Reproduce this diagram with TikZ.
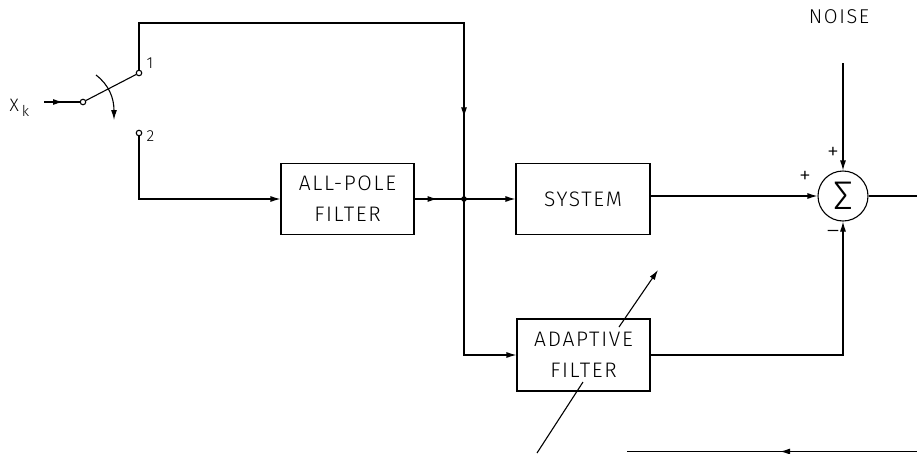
\documentclass[tikz,border=0pt]{standalone}
\usepackage{fontspec}
\setmainfont{Liberation Sans}
\newfontfamily\plotfont[LetterSpace=8]{Fira Sans}[UprightFont={* Light}]
\usetikzlibrary{arrows.meta,decorations.markings,calc}

\begin{document}
\begin{tikzpicture}[x=1pt,y=-1pt,line width=1.1pt,
  tip/.style={-{Latex[length=10pt,width=6pt]}},
  midtip/.style={postaction={decorate},decoration={markings,
      mark=at position #1 with {\arrow{Latex[length=10pt,width=6pt]}}}},
  blockbox/.style={draw,minimum width=133pt,minimum height=71pt,inner sep=0pt,
      align=center,font=\plotfont\fontsize{21}{31}\selectfont},
  terminal/.style={draw,circle,minimum size=5.5pt,inner sep=0pt,fill=white},
  sumnode/.style={draw,circle,minimum size=50pt,inner sep=0pt,
      font=\plotfont\fontsize{40}{40}\selectfont},
  lbl/.style={inner sep=0pt,font=\plotfont\fontsize{16}{16}\selectfont},
  sign/.style={inner sep=0pt,font=\plotfont\fontsize{24}{24}\selectfont},
]
\useasboundingbox (0,0) rectangle (917,453);

% switch
\node[anchor=base west,inner sep=0pt,font=\plotfont\fontsize{18}{18}\selectfont]
  (xk) at (9,111) {X\hspace{3pt}\raisebox{-5pt}{\fontsize{15}{15}\selectfont k}};
\coordinate (xin) at (44,102);
\node[terminal] (piv) at (83,102) {};
\node[terminal] (c1) at (139,73) {};
\node[terminal] (c2) at (139,133) {};
\node[lbl,anchor=west] (l1) at (146,63) {1};
\node[lbl,anchor=west] (l2) at (146,136) {2};

% blocks
\node[blockbox] (apf) at (347.5,199) {ALL-POLE\\FILTER};
\node[blockbox,minimum width=134pt] (sys) at (583,199) {SYSTEM};
\node[blockbox,minimum height=72pt] (adf) at (583.5,355) {ADAPTIVE\\FILTER};
\node[sumnode] (sum) at (843,196) {Σ};

\coordinate (j) at (464,199);
\coordinate (tr) at (464,23);
\node[lbl,font=\plotfont\fontsize{20}{20}\selectfont] (noise) at (839,17) {NOISE};
\coordinate (nz) at (843,63);
\coordinate (yout) at (917,196);

% sign labels
\node[sign] (p1) at (833,153) {+};
\node[sign] (p2) at (805,177) {+};
\node[sign] (m1) at (833,234) {–};

% connectors
\draw[midtip=19pt] (xin) -- (piv.west);
\draw (piv) -- (c1);
\draw[tip] (96,75) .. controls (109,85) and (114,98) .. (114,120);
\draw[midtip=466pt] (c1.north) |- (tr) -- (j);
\draw[tip] (c2.south) |- (apf.west);
\draw[midtip=23pt] (apf.east) -- (j);
\fill (j) circle (2.8pt);
\draw[tip] (j) -- (sys.west);
\draw[tip] (j) |- (adf.west);
\draw[tip] (sum.west -| sys.east) -- (sum.west);
\draw[tip] (adf.east) -| (sum.south);
\draw[tip] (nz) -- (sum.north);
\draw (sum.east) -- (yout);

% adaptation arrow across the adaptive filter
\coordinate (d1) at (537,453);
\coordinate (d2) at (583,382);
\coordinate (d3) at (619,327);
\coordinate (d4) at (658,270);
\draw (d1) -- (d2);
\draw[tip] (d3) -- (d4);

% line along the lower edge
\coordinate (b1) at (627,451.5);
\coordinate (b2) at (917,451.5);
\draw[midtip=137pt] (b2) -- (b1);
\end{tikzpicture}
\end{document}
